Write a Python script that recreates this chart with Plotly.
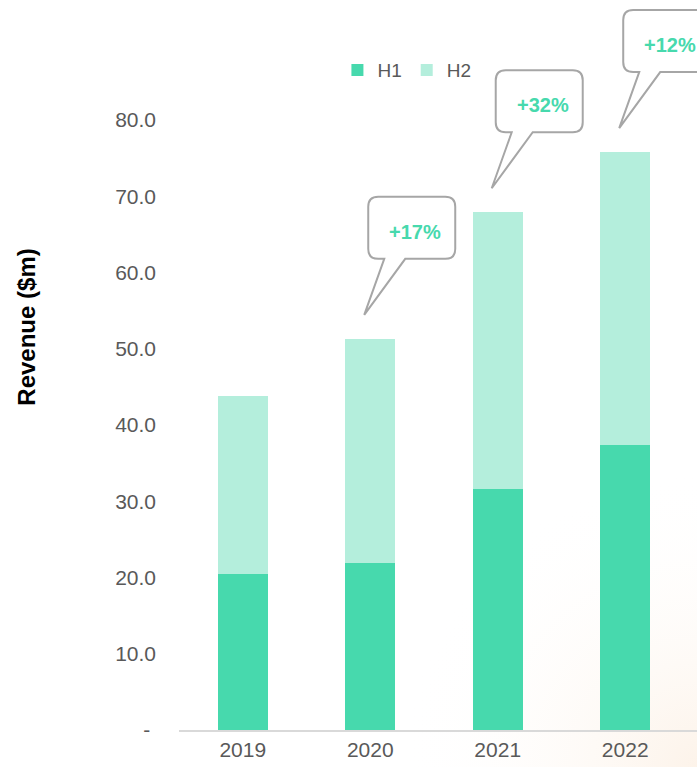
import base64
import plotly.graph_objects as go

# Revenue by half-year, $m
years = ["2019", "2020", "2021", "2022"]
h1 = [20.5, 21.9, 31.6, 37.4]
h2 = [23.3, 29.4, 36.3, 38.4]
y_tickvals = [0, 10, 20, 30, 40, 50, 60, 70, 80]
y_ticktext = ["-\u00a0", "10.0", "20.0", "30.0", "40.0", "50.0", "60.0", "70.0", "80.0"]

totals = [a + b for a, b in zip(h1, h2)]

C_H1 = "rgb(71,217,173)"
C_H2 = "rgb(180,238,220)"
GREY_TXT = "#595959"
FONT = "Arial, Liberation Sans, sans-serif"

fig = go.Figure()
fig.add_trace(go.Bar(x=years, y=h1, name="H1", marker=dict(color=C_H1, line_width=0), width=0.392))
fig.add_trace(go.Bar(x=years, y=h2, name="H2", marker=dict(color=C_H2, line_width=0), width=0.392))

# speech-bubble callout (pixel offsets relative to the top of a bar, y up)
Lx, Rx, By, Ty, r = -2, 85, 80, 142, 10
ta, tb, tip = 14, 35, (-6, 24)
bubble = (
    f"M{ta},{By}L{tip[0]},{tip[1]}L{tb},{By}"
    f"L{Rx - r},{By}Q{Rx},{By},{Rx},{By + r}"
    f"L{Rx},{Ty - r}Q{Rx},{Ty},{Rx - r},{Ty}"
    f"L{Lx + r},{Ty}Q{Lx},{Ty},{Lx},{Ty - r}"
    f"L{Lx},{By + r}Q{Lx},{By},{Lx + r},{By}Z"
)

for i in range(1, len(years)):
    growth = round((totals[i] / totals[i - 1] - 1) * 100)
    fig.add_shape(
        type="path", path=bubble,
        xref="x", yref="y", xsizemode="pixel", ysizemode="pixel",
        xanchor=i, yanchor=totals[i],
        line=dict(color="#a6a6a6", width=2), fillcolor="white", layer="above",
    )
    fig.add_annotation(
        x=i, y=totals[i], xref="x", yref="y",
        text=f"<b>+{growth}%</b>", showarrow=False,
        xshift=45, yshift=107,
        font=dict(family=FONT, size=20, color=C_H1),
    )

# y-axis caption
fig.add_annotation(
    xref="paper", yref="paper", x=-0.326, y=0.552,
    text="<b>Revenue ($m)</b>", textangle=-90, showarrow=False,
    font=dict(family=FONT, size=24, color="black"),
)

# soft warm glow in the lower-right corner
svg = (
    '<svg xmlns="http://www.w3.org/2000/svg" width="300" height="300">'
    '<defs><radialGradient id="g" cx="100%" cy="100%" r="100%">'
    '<stop offset="0%" stop-color="rgb(252,240,228)" stop-opacity="0.8"/>'
    '<stop offset="100%" stop-color="rgb(255,255,255)" stop-opacity="0"/>'
    '</radialGradient></defs>'
    '<rect width="300" height="300" fill="url(#g)"/></svg>'
)
fig.add_layout_image(
    source="data:image/svg+xml;base64," + base64.b64encode(svg.encode()).decode(),
    xref="paper", yref="paper", x=0.427, y=0.356, sizex=0.573, sizey=0.407,
    xanchor="left", yanchor="top", sizing="stretch", layer="below",
)

fig.update_layout(
    width=697, height=767,
    margin=dict(l=179, r=0, t=0, b=37),
    barmode="stack",
    paper_bgcolor="white", plot_bgcolor="rgba(0,0,0,0)",
    font=dict(family=FONT, color=GREY_TXT),
    showlegend=True,
    legend=dict(
        orientation="h", x=0.44, y=0.904, xanchor="center", yanchor="middle",
        traceorder="normal", font=dict(size=19, color=GREY_TXT),
        itemwidth=30, bgcolor="rgba(0,0,0,0)",
    ),
    xaxis=dict(
        range=[-0.5, 3.563], showgrid=False, zeroline=False,
        showline=True, linecolor="#d9d9d9", linewidth=1.5,
        ticks="", tickfont=dict(size=21, color=GREY_TXT),
    ),
    yaxis=dict(
        range=[0, 95.74], showgrid=False, zeroline=False, showline=False,
        tickvals=y_tickvals, ticktext=y_ticktext, ticks="",
        ticklabelstandoff=22,
        tickfont=dict(size=21, color=GREY_TXT),
    ),
)

fig.write_html("out.html")
